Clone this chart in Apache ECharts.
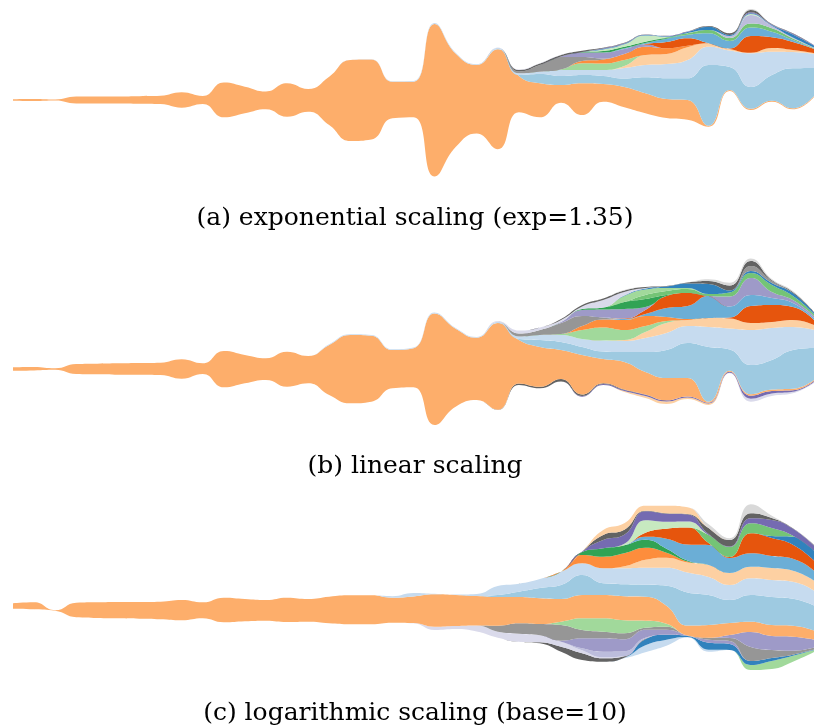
<!DOCTYPE html>
<html><head><meta charset="utf-8">
<script src="https://cdn.jsdelivr.net/npm/echarts@6.0.0/dist/echarts.min.js"></script>
<style>html,body{margin:0;padding:0;background:#fff}#chart{width:814px;height:728px}</style>
</head><body><div id="chart"></div>
<script>
// time steps (equally spaced samples)
const steps = [0,1,2,3,4,5,6,7,8,9,10,11,12,13,14,15,16,17,18,19,20,21,22,23,24,25,26,27,28,29,30,31,32,33,34,35,36,37,38];
const captions = ['(a) exponential scaling (exp=1.35)', '(b) linear scaling', '(c) logarithmic scaling (base=10)'];

// ---------- panel (a): exponential scaling ----------
const offsetA = [99.2,99,99.5,96.6,96.5,96.4,96.2,95.9,92.3,96, 82.7,86.7,90.8,83.3,88.3,75,59,60.5,81.7,82.7, 23.5,53,66.5,50.7,87.7,82.7,97.3,85,98.3,92.7, 86.7,82,80.3,73.3,109,90,98.3,90.7,103];
const a_orange = [1.6,2,1,6.8,7,7.2,7.6,8.3,15.4,8, 34.8,26.6,17.7,33.4,22.7,48.3,81,80,36.6,35.6, 152.5,93.5,68.5,100,36.3,34,17.7,31.7,17.7,20.3, 20,19,19.7,1,1,1.3,1,1,1];
const a_blue = [0,0,0,0,0,0,0,0,0,0,0,0,0,0,0,0,0,0,0,0, 0,0,0,0.3,1,9.3,9,8.3,8,8.5, 16,20.7,21.7,60.7,23,21.7,25.7,40,28];
const a_lightblue = [0,0,0,0,0,0,0,0,0,0, 0,0,0,0,0,0,0,0.3,0.5,0.7, 1,0.8,0.8,1.3,1.7,2.3,6,5,6,10.5, 12.3,14.3,18.3,18.3,16.5,33.7,23.3,16.3,14];
const a_peach = [0,0,0,0,0,0,0,0,0,0,0,0,0,0,0,0,0,0,0,0, 0,0,0,0,0,0,0,0,0,2, 10,10,12.7,3.4,1.5,0.6,3.7,2,1];
const a_lightgreen = [0,0,0,0,0,0,0,0,0,0,0,0,0,0,0,0,0,0,0,0, 0,0,0,0,0,0,0.5,6.7,6.5,6, 0,0,0,0,0,0,0,0,0];
const a_orange2 = [0,0,0,0,0,0,0,0,0,0,0,0,0,0,0,0,0,0,0,0, 0,0,0,0,0,0,0,2.3,4,6, 8.3,5.7,1.6,0,0,0,0,0,0];
const a_gray = [0,0,0,0,0,0,0,0,0,0,0,0,0,0,0,0,0,0,0,0, 0,0,0,0,1.8,6.7,12.5,4,1,0, 0,0,0,0,0,0,0,0,0];
const a_purple = [0,0,0,0,0,0,0,0,0,0,0,0,0,0,0,0,0,0,0,0, 0,0,0,0,0,0,0.5,4.5,6,5, 2.2,0,0,0,0,0,0,0,0];
const a_darkorange = [0,0,0,0,0,0,0,0,0,0,0,0,0,0,0,0,0,0,0,0,0,0,0,0,0,0,0,0,0,0, 0.5,6.3,7.4,0,0.5,16.7,10.7,8,4];
const a_blue6b = [0,0,0,0,0,0,0,0,0,0,0,0,0,0,0,0,0,0,0,0, 0,0,0,0,0,0,0,0,0,0.7, 1,3.3,3.3,10,7.5,8.5,5.6,2,0.5];
const a_green31 = [0,0,0,0,0,0,0,0,0,0,0,0,0,0,0,0,0,0,0,0, 0,0,0,0,0,0,0,0.5,1.5,1.5, 1.3,0.7,0.3,0,0,0,0,0,0];
const a_green74 = [0,0,0,0,0,0,0,0,0,0,0,0,0,0,0,0,0,0,0,0,0,0,0,0,0,0,0,0,0,0, 0,0.7,1.5,3.3,3,4,3.4,1.5,0.5];
const a_purpleBC = [0,0,0,0,0,0,0,0,0,0,0,0,0,0,0,0,0,0,0,0,0,0,0,0,0,0,0,0,0,0, 0,0,0,0,2,8.5,2.6,1,0.5];
const a_paleGreen = [0,0,0,0,0,0,0,0,0,0,0,0,0,0,0,0,0,0,0,0, 0,0,0,0,0,0,0,0,1.5,2.5, 6.2,0.6,0.3,0,0,1,0,0,0];
const a_blue31 = [0,0,0,0,0,0,0,0,0,0,0,0,0,0,0,0,0,0,0,0, 0,0,0,0,0,0,0,0,0.7,0.6, 0.5,0.5,1,3.3,1,0.7,0.7,3,2];
const a_purple75 = [0,0,0,0,0,0,0,0,0,0,0,0,0,0,0,0,0,0,0,0, 0,0,0,0,0,0,0,0,0.6,0.5, 0.3,0.2,0.3,0,0,1,0.5,0.7,0.3];
const a_gray63 = [0,0,0,0,0,0,0,0,0,0,0,0,0,0,0,0,0,0,0,0, 0,0,0,0,1.5,1.5,1.5,1.3,0.5,0.5, 0.3,0.2,0.2,0.7,1.7,2.3,0.5,0.5,0.2];
const a_grayD9 = [0,0,0,0,0,0,0,0,0,0,0,0,0,0,0,0,0,0,0,0,0,0,0,0,0,0,0,0,0,0, 0,0,0,0,0,1,0,0,0];
const a_lav = [0,0,0,0,0,0,0,0,0,0,0,0,0,0,0,0,0,0,0,0, 0,0,0,0.3,0.5,0.3,0.2,0,0,0, 0,0,0,0,0,0,0,0,0];

// ---------- panel (b): linear scaling ----------
const offsetB = [74.3,74.6,75.3,71,70.7,70.3,70.3,70,66.3,71, 57.7,61.7,65,58.3,61.7,50,41.7,43.3,56.7,57.7, 20,38.3,45,35,60,56.7,63.5,48.3,60,53, 47,41,46,40,71.7,43.3,49,51.7,62];
const b_peachB = [0,0,0,0,0,0,0,0,0,0,0,0,0,0,0,0,0,0,0,0, 0,0,0,0,0,0,0,0,0,1, 2,2.5,1.5,1.5,0,0,0,0,0];
const b_lavB = [0,0,0,0,0,0,0,0,0,0,0,0,0,0,0,0,0,0,0,0,0,0,0,0,0,0,0,0,0,0, 0,0,0,0,0.5,3,2.5,1.5,1];
const b_purpleB = [0,0,0,0,0,0,0,0,0,0,0,0,0,0,0,0,0,0,0,0, 0,0,0,0,0,0,0,0.7,1,1, 1.2,1.2,1,0.8,1,3,2.5,1.5,1];
const b_grayB = [0,0,0,0,0,0,0,0,0,0,0,0,0,0,0,0,0,0,0,0, 0,0,0,0.3,1.5,1.5,2.5,1.5,0.8,0.5, 0.3,0,0,0,0,0,0,0,0];
const b_orange = [3.4,3.4,1.4,10,10.6,11.4,11.7,12.3,19.4,10.7, 36.3,28.3,21.7,35,27.3,50,68.3,66,38.3,39, 111.5,78,62.3,86.7,43.5,39.8,29,39.5,24.2,27.5, 22.5,22.3,18.5,1,1,1.5,1.5,1.5,1];
const b_blue = [0,0,0,0,0,0,0,0,0,0,0,0,0,0,0,0,0,0,0,0, 0,0,0,0,1,7,8,8,7.5,10, 20,28,35,54.7,21.3,29.2,29.5,38.8,32];
const b_lightblue = [0,0,0,0,0,0,0,0,0,0, 0,0,0,0,0,0.7,0.7,0.7,0.7,0.7, 1,0.7,0.7,1.2,2.5,5,7,8,11,11, 14,17,17,20,21,35,32,23,18];
const b_peach = [0,0,0,0,0,0,0,0,0,0,0,0,0,0,0,0,0,0,0,0, 0,0,0,0,0,0,0,0,0,1, 6,10,6,9,10,7,6,7,5];
const b_lightgreen = [0,0,0,0,0,0,0,0,0,0,0,0,0,0,0,0,0,0,0,0, 0,0,0,0,0,0,1,9,13,10, 6,2,0,0,0,0,0,0,0];
const b_orange2 = [0,0,0,0,0,0,0,0,0,0,0,0,0,0,0,0,0,0,0,0, 0,0,0,0,0,0,0,4,8,10, 10,4,1,0,0,0,0,0,0];
const b_gray = [0,0,0,0,0,0,0,0,0,0,0,0,0,0,0,0,0,0,0,0, 0,0,0,0,3,5,11,10,2,0, 0,0,0,0,0,0,0,0,0];
const b_dorangeR = [0,0,0,0,0,0,0,0,0,0,0,0,0,0,0,0,0,0,0,0,0,0,0,0,0,0,0,0,0,0, 0,0,0,0,1,17,17,13,5];
const b_blue6 = [0,0,0,0,0,0,0,0,0,0,0,0,0,0,0,0,0,0,0,0, 0,0,0,0,0,0,0,0,0,1, 2,9,13,22,11,11,7,4,2];
const b_dorangeL = [0,0,0,0,0,0,0,0,0,0,0,0,0,0,0,0,0,0,0,0, 0,0,0,0,0,0,0,0,0,0.5, 4,12,13,0,0,0,0,0,0];
const b_purple = [0,0,0,0,0,0,0,0,0,0,0,0,0,0,0,0,0,0,0,0, 0,0,0,0,0,0,1,6,8,9.5, 3,0,0,0,10,17,6,3,2];
const b_green = [0,0,0,0,0,0,0,0,0,0,0,0,0,0,0,0,0,0,0,0, 0,0,0,0,0,0,0,1,2,7, 8,1,0,0,0,0,0,0,0];
const b_green74 = [0,0,0,0,0,0,0,0,0,0,0,0,0,0,0,0,0,0,0,0,0,0,0,0,0,0,0,0,0,0, 4,4,4,2,4,5,7,4,2];
const b_palegreen = [0,0,0,0,0,0,0,0,0,0,0,0,0,0,0,0,0,0,0,0, 0,0,0,0,0,0,0,0,0,6, 5.5,3,1,0,0,0,0,0,0];
const b_blue31 = [0,0,0,0,0,0,0,0,0,0,0,0,0,0,0,0,0,0,0,0, 0,0,0,0,0,0,0,0,0,0.5, 1,1.5,4.5,10,2,2,2,3,1.5];
const b_gray2 = [0,0,0,0,0,0,0,0,0,0,0,0,0,0,0,0,0,0,0,0,0,0,0,0,0,0,0,0,0,0, 0,0,0,0,0,5,2,0,0];
const b_lav = [0,0,0,0,0,0,0,0,0,0,0,0,0,0,0,0,0,0,0,0, 0,0,0,0.8,3,2.5,2,2.5,7.5,3.5, 0.5,0,0,0,0,0,0,0,0];
const b_grayT = [0,0,0,0,0,0,0,0,0,0,0,0,0,0,0,0,0,0,0,0, 0,0,0,0,0,0,1,1.5,1.5,1.5, 1,0.5,1,3,5,5,1,1,0.5];
const b_grayLt = [0,0,0,0,0,0,0,0,0,0,0,0,0,0,0,0,0,0,0,0, 0,0,0,0,0,0,0,0,0,0.5, 0,0,0,1.7,2.7,2.5,1,1,0];

// ---------- panel (c): logarithmic scaling ----------
const offsetC = [81.3,80.7,79.2,72.7,72,71.7,71.3,70.7,69.7,71.7, 67.7,68.7,69.3,68,68.3,66.7,65.7,65.7,67.3,66.7, 60,61,58.5,52.3,48.3,46.7,38.3,30,28.3,31.7, 37.7,44.3,52.5,38.3,40,20,21,28.3,38];
const c_greenB = [0,0,0,0,0,0,0,0,0,0,0,0,0,0,0,0,0,0,0,0,0,0,0,0,0,0,0,0,0,0, 0,0,0,0,0,5,8,6,2];
const c_lightblueB = [0,0,0,0,0,0,0,0,0,0,0,0,0,0,0,0,0,0,0,0, 0,0,0,0,0,0,0,0,0,0.5, 7,6,0.5,2,0,0,0,0,0];
const c_blue31B = [0,0,0,0,0,0,0,0,0,0,0,0,0,0,0,0,0,0,0,0,0,0,0,0,0,0,0,0,0,0, 6,5,1,7,6,4,3,1,0.5];
const c_gray63B = [0,0,0,0,0,0,0,0,0,0,0,0,0,0,0,0,0,0,0,0, 0,0,0,0,0,1,5,6.7,3.4,1.5, 0.5,0,0,0,0,0,0,0,0];
const c_lavB = [0,0,0,0,0,0,0,0,0,0, 0,0,0,0,0,0,0,0,0,0.3, 3.3,3,6,6,8,7,5,3,1,0, 0,0,0,0,0,0,0,0,0];
const c_purpleBC = [0,0,0,0,0,0,0,0,0,0,0,0,0,0,0,0,0,0,0,0, 0,0,0,0,0,0,0,2,5.6,5, 1,0,0,0,0,0,0,0,0];
const c_purple9e = [0,0,0,0,0,0,0,0,0,0,0,0,0,0,0,0,0,0,0,0, 0,0,0,0,0,0,1,10,13.4,12, 8,5,0.5,3,3,0,0,0,0];
const c_gray96 = [0,0,0,0,0,0,0,0,0,0,0,0,0,0,0,0,0,0,0,0, 0,0,0,6,10.4,11.3,15.7,8.3,6.6,6, 2,3,0,2,3,14,8,4,2];
const c_purple9eR = [0,0,0,0,0,0,0,0,0,0,0,0,0,0,0,0,0,0,0,0,0,0,0,0,0,0,0,0,0,0, 0,0,0,0,3,15,14,14,8];
const c_lightgreen = [0,0,0,0,0,0,0,0,0,0,0,0,0,0,0,0,0,0,0,0, 0,0,0,0,0,0,3.3,11.7,13.4,13, 7,3,0,0,0,0,0,0,0];
const c_orange = [5.4,7,0.6,14.6,15.7,16.3,16.7,17.6,20.3,16, 24.6,22.3,20.7,24.3,22.7,26.6,29,29,25,26.6, 32.4,31,29.5,28.7,26.3,25.7,22.7,23.3,23.3,24, 24,18,10,12.7,12,10.3,11,11,9];
const c_blue = [0,0,0,0,0,0,0,0,0,0,0,0,0,0,0,0,0,0,0,0, 0,0,0,2,5.3,10.3,14,20,11.7,12, 12,20,33,30,23,26.7,28,27,25];
const c_lightblue = [0,0,0,0,0,0,0,0,0,0, 0,0,0,0,0,0,0,0,1.5,3.4, 0.5,0.5,2,9,8,9,13.3,11.7,15,16, 17,18,20,18,15,16.7,17,17,15];
const c_peach = [0,0,0,0,0,0,0,0,0,0,0,0,0,0,0,0,0,0,0,0, 0,0,0,0,0,0,0,0,0,2, 8,10,10,12,12,11.6,12,11,10];
const c_orange2 = [0,0,0,0,0,0,0,0,0,0,0,0,0,0,0,0,0,0,0,0, 0,0,0,0,0,0,0,8.3,11.6,13, 12,5,1,0,0,0,0,0,0];
const c_green31 = [0,0,0,0,0,0,0,0,0,0,0,0,0,0,0,0,0,0,0,0, 0,0,0,0,0,0,0,3,8.4,8, 8,4,1,0,0,0,0,0,0];
const c_blue6b = [0,0,0,0,0,0,0,0,0,0,0,0,0,0,0,0,0,0,0,0,0,0,0,0,0,0,0,0,0,0, 3,10,16,20,15,13.4,12,12,10];
const c_darkorange = [0,0,0,0,0,0,0,0,0,0,0,0,0,0,0,0,0,0,0,0,0,0,0,0,0,0,0,0,0,0, 4,10,17,2,1,20,18,14,10];
const c_blue31T = [0,0,0,0,0,0,0,0,0,0,0,0,0,0,0,0,0,0,0,0,0,0,0,0,0,0,0,0,0,0, 0,0,0,0,0,0,2,8,10];
const c_green74 = [0,0,0,0,0,0,0,0,0,0,0,0,0,0,0,0,0,0,0,0,0,0,0,0,0,0,0,0,0,0, 0,0,0,8,10,10,8,1,0];
const c_paleGreen = [0,0,0,0,0,0,0,0,0,0,0,0,0,0,0,0,0,0,0,0, 0,0,0,0,0,0,0,0,0,1.5, 12.6,7,6,0,0,0,0,0,0];
const c_purple75 = [0,0,0,0,0,0,0,0,0,0,0,0,0,0,0,0,0,0,0,0, 0,0,0,0,0,0,0,0.5,8.3,9, 9,8,7,1,0.5,5,8,7,5];
const c_gray63T = [0,0,0,0,0,0,0,0,0,0,0,0,0,0,0,0,0,0,0,0, 0,0,0,0,0,0,0,0,5,5, 0.5,0.5,0.5,6,6.5,5,2,0.4,0.5];
const c_peachT = [0,0,0,0,0,0,0,0,0,0,0,0,0,0,0,0,0,0,0,0, 0,0,0,0,0,0,0,0,5,6.5, 5,7.5,6.8,0,0,0,0,0,0];
const c_grayD9 = [0,0,0,0,0,0,0,0,0,0,0,0,0,0,0,0,0,0,0,0,0,0,0,0,0,0,0,0,0,0, 0,0,0,3.7,1.7,9,2.3,0,0];

// category20c palette
const P = {
  b31:'#3182bd', b6b:'#6baed6', b9e:'#9ecae1', bc6:'#c6dbef',
  oe6:'#e6550d', o8d:'#fd8d3c', oae:'#fdae6b', od0:'#fdd0a2',
  g31:'#31a354', g74:'#74c476', ga1:'#a1d99b', gc7:'#c7e9c0',
  p75:'#756bb1', p9e:'#9e9ac8', pbc:'#bcbddc', pda:'#dadaeb',
  k63:'#636363', k96:'#969696', kbd:'#bdbdbd', kd9:'#d9d9d9'
};

const layersA = [
  [a_orange,P.oae],[a_blue,P.b9e],[a_lightblue,P.bc6],[a_peach,P.od0],[a_lightgreen,P.ga1],
  [a_orange2,P.o8d],[a_gray,P.k96],[a_purple,P.p9e],[a_darkorange,P.oe6],[a_blue6b,P.b6b],
  [a_green31,P.g31],[a_green74,P.g74],[a_purpleBC,P.pbc],[a_paleGreen,P.gc7],[a_blue31,P.b31],
  [a_purple75,P.p75],[a_gray63,P.k63],[a_grayD9,P.kd9],[a_lav,P.pda]
];
const layersB = [
  [b_peachB,P.od0],[b_lavB,P.pda],[b_purpleB,P.p75],[b_grayB,P.k63],[b_orange,P.oae],
  [b_blue,P.b9e],[b_lightblue,P.bc6],[b_peach,P.od0],[b_lightgreen,P.ga1],[b_orange2,P.o8d],
  [b_gray,P.k96],[b_dorangeR,P.oe6],[b_blue6,P.b6b],[b_dorangeL,P.oe6],[b_purple,P.p9e],
  [b_green,P.g31],[b_green74,P.g74],[b_palegreen,P.ga1],[b_blue31,P.b31],[b_gray2,P.k96],
  [b_lav,P.pda],[b_grayT,P.k63],[b_grayLt,P.kd9]
];
const layersC = [
  [c_greenB,P.ga1],[c_lightblueB,P.bc6],[c_blue31B,P.b31],[c_gray63B,P.k63],[c_lavB,P.pda],
  [c_purpleBC,P.pbc],[c_purple9e,P.p9e],[c_gray96,P.k96],[c_purple9eR,P.p9e],[c_lightgreen,P.ga1],
  [c_orange,P.oae],[c_blue,P.b9e],[c_lightblue,P.bc6],[c_peach,P.od0],[c_orange2,P.o8d],
  [c_green31,P.g31],[c_blue6b,P.b6b],[c_darkorange,P.oe6],[c_blue31T,P.b31],[c_green74,P.g74],
  [c_paleGreen,P.gc7],[c_purple75,P.p75],[c_gray63T,P.k63],[c_peachT,P.od0],[c_grayD9,P.kd9]
];

// a layer is left undrawn far from where it is present (keeps curve joins identical near it)
function present(vals){
  return vals.map((v,i)=>{
    if (v !== 0) return v;
    for (let d = 1; d <= 3; d++) {
      if ((i-d >= 0 && vals[i-d] !== 0) || (i+d < vals.length && vals[i+d] !== 0)) return 0;
    }
    return null;
  });
}
function buildStack(idx, offset, layers){
  const name = 'stream' + idx;
  const common = {type:'line', xAxisIndex:idx, yAxisIndex:idx, stack:name, smooth:0.5,
    symbol:'none', showSymbol:false, silent:true, clip:true, animation:false, connectNulls:false};
  const out = [Object.assign({}, common, {data:offset.slice(), lineStyle:{width:0, opacity:0}})];
  layers.forEach(([vals,color])=>{
    out.push(Object.assign({}, common, {data:present(vals), lineStyle:{width:0, opacity:0},
      areaStyle:{color:color, opacity:1}, itemStyle:{color:color}}));
  });
  return out;
}

// first step sits 13px from the left edge, step spacing 21.3px (last step lies past the right edge)
const gridTops = [0, 245, 490];
const captionY = [218, 466, 713];
const chart = echarts.init(document.getElementById('chart'), null, {renderer:'canvas'});
chart.setOption({
  backgroundColor:'#ffffff',
  animation:false,
  grid: gridTops.map(t=>({left:13, right:-8.4, top:t, height:200, containLabel:false})),
  xAxis: gridTops.map((t,i)=>({type:'category', gridIndex:i, data:steps, boundaryGap:false, show:false})),
  yAxis: gridTops.map((t,i)=>({type:'value', gridIndex:i, min:0, max:200, show:false})),
  graphic: captions.map((txt,i)=>({type:'text', x:415, y:captionY[i], silent:true,
    style:{text:txt, fill:'#000', font:'25px "DejaVu Serif"', align:'center', verticalAlign:'middle',
      textAlign:'center', textVerticalAlign:'middle'}})),
  series: [].concat(buildStack(0, offsetA, layersA), buildStack(1, offsetB, layersB), buildStack(2, offsetC, layersC))
});
</script>
</body></html>
